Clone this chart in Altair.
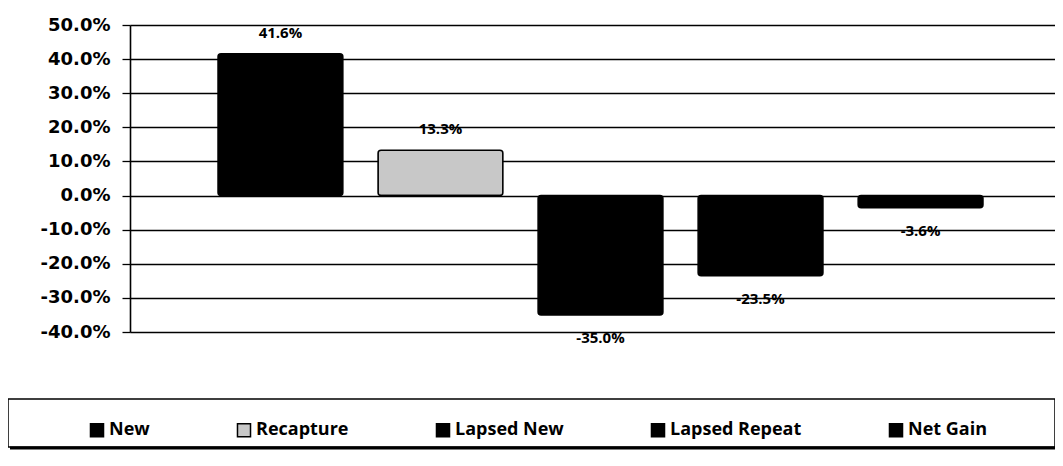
import altair as alt
import pandas as pd

categories = ["New", "Recapture", "Lapsed New", "Lapsed Repeat", "Net Gain"]
values = [0.416, 0.133, -0.350, -0.235, -0.036]
colors = ["#000000", "#c8c8c8", "#000000", "#000000", "#000000"]
tick_values = [-0.4, -0.3, -0.2, -0.1, 0.0, 0.1, 0.2, 0.3, 0.4, 0.5]

df = pd.DataFrame({"cat": categories, "val": values})

FONT = "Open Sans"
AXFONT = "DejaVu Sans"
W, H = 925, 307
FMT = "replace(format(datum.val, '.1%'), '\u2212', '-')"

x_enc = alt.X("cat:N", sort=categories, axis=None,
              scale=alt.Scale(paddingInner=0.22, paddingOuter=0.5, align=0.55))
y_axis = alt.Axis(values=tick_values, labelOverlap=False,
                  labelExpr="replace(format(datum.value, '.1%'), '\u2212', '-')",
                  title=None, grid=True, gridColor="black", gridWidth=1.3,
                  domainColor="black", domainWidth=1.6, tickColor="black",
                  tickSize=8, tickWidth=1.3, labelPadding=12,
                  labelFont=AXFONT, labelFontSize=18, labelFontWeight="bold",
                  labelColor="black")
y_enc = alt.Y("val:Q", scale=alt.Scale(domain=[-0.4, 0.5], nice=False), axis=y_axis)

bars = alt.Chart(df).mark_bar(stroke="black", strokeWidth=1.5, cornerRadius=3).encode(
    x=x_enc,
    y=y_enc,
    color=alt.Color("cat:N", sort=categories,
                    scale=alt.Scale(domain=categories, range=colors),
                    legend=alt.Legend(orient="none", direction="horizontal", title=None,
                                      legendX=-42, legendY=396,
                                      columns=5, columnPadding=84,
                                      symbolType="square", symbolSize=170,
                                      symbolStrokeColor="black", symbolStrokeWidth=1.5,
                                      labelFont=FONT, labelFontSize=18, labelFontWeight="bold",
                                      labelColor="black", labelOffset=3)),
)

pos = alt.Chart(df).transform_filter("datum.val >= 0").transform_calculate(
    lab=FMT
).mark_text(
    baseline="bottom", dy=-13, font=FONT, fontSize=15, fontWeight="bold", color="black"
).encode(x=x_enc, y=y_enc, text="lab:N")

neg = alt.Chart(df).transform_filter("datum.val < 0").transform_calculate(
    lab=FMT
).mark_text(
    baseline="top", dy=16, font=FONT, fontSize=15, fontWeight="bold", color="black"
).encode(x=x_enc, y=y_enc, text="lab:N")

box = alt.Chart(pd.DataFrame({"k": [0]})).mark_rect(
    fill="white", stroke="black", strokeWidth=1.5
).encode(x=alt.value(-122), x2=alt.value(W), y=alt.value(374), y2=alt.value(422))

shadow = alt.Chart(pd.DataFrame({"k": [0]})).mark_rule(
    color="black", strokeWidth=3
).encode(x=alt.value(-120), x2=alt.value(W), y=alt.value(423))

chart = alt.layer(box, shadow, bars, pos, neg).properties(
    width=W, height=H,
    padding={"left": 122, "top": 17, "right": 0, "bottom": 130},
    autosize=alt.AutoSizeParams(type="none"),
).configure_view(stroke=None).configure(background="white")

chart.save("out.html", embed_options={"renderer": "svg", "actions": False})
